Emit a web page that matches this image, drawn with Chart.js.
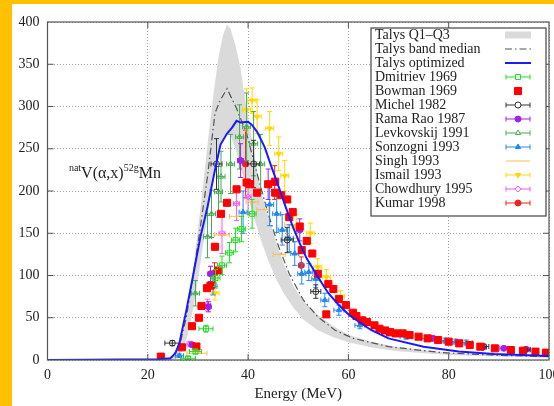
<!DOCTYPE html>
<html>
<head>
<meta charset="utf-8">
<script src="https://cdn.jsdelivr.net/npm/chart.js@4.4.1/dist/chart.umd.min.js"></script>
<style>
  body { margin: 0; background: #fff; }
  #wrap { position: relative; width: 554px; height: 406px; overflow: hidden; background: #fff;
          box-sizing: border-box; border-top: 4px solid #ffc000; border-left: 12px solid #ffc000; }
  canvas { display: block; }
</style>
</head>
<body>
<div id="wrap"><canvas id="c" width="560" height="402"></canvas></div>
<script>
// talys curves (energy in MeV, cross section in mb)
const bandE  = [24, 25, 26, 27, 28, 29, 30, 31, 32, 33, 34, 35, 35.8, 36.5, 37.5, 38.5, 39.5, 40.5, 41.5, 42.5, 44, 45.5, 47, 49, 51, 54, 57, 60, 65, 70, 80, 90, 100]
const bandQ1 = [0, 0, 2, 12, 30, 60, 95, 135, 175, 215, 245, 262, 268, 265, 250, 228, 205, 182, 162, 143, 118, 97, 80, 62, 48, 35, 27, 21, 14.5, 10.5, 6, 4, 2.8]
const bandQ3 = [0, 2, 12, 30, 60, 105, 155, 205, 260, 310, 355, 385, 397, 392, 372, 345, 305, 270, 235, 200, 170, 142, 115, 88, 70, 53, 40, 30, 21, 15, 8.5, 5.5, 3.8]

const medianE = [0, 24.5, 26.3, 27.7, 29.1, 30.5, 31.9, 33.4, 34.4, 35.8, 37.6, 39.7, 41.1, 42.5, 44, 46.1, 48.2, 51, 53.9, 57.4, 61, 68, 78.6, 90, 100]
const medianS = [0, 0, 16, 51, 102, 158, 217, 292, 307, 321, 299, 268, 236, 205, 173, 134, 102, 71, 51, 35, 25.6, 15.8, 8.7, 5.5, 4]

const optE = [0, 15, 22, 24.5, 25.5, 26.3, 27.7, 29.1, 30.5, 31.9, 33.4, 34.5, 35.8, 36.8, 37.7, 38.5, 40, 40.8, 41.8, 43.3, 44.7, 46.1, 47.5, 48.9, 50.3, 51.7, 53.9, 56, 58.1, 60.2, 64.5, 68, 75, 82, 89, 100]
const optS = [0, 0.5, 1, 2, 8, 20, 59, 102, 146, 181, 225, 255, 268, 275, 283, 281, 282, 278, 270, 252, 228, 205, 181, 158, 138, 120, 98.5, 79, 65, 53, 35.5, 25.6, 15.8, 10, 7, 4.7]

// experimental data
const dmitrievE = [28, 29.5, 31.6, 33.5, 34.8, 36.3, 37.5, 38.7, 40.8]
const dmitrievS = [2, 10, 37, 97, 112, 127, 142, 155, 173]
const dmitrievErrS = [2, 3, 4, 10, 11, 12, 14, 15, 17]
const dmitrievErrE = [1.5, 1.2, 1.4, 0.9, 0.9, 0.8, 0.8, 0.8, 0.8]

const bowmanE = [22.6, 26.8, 28.8, 29.7, 30.2, 30.7, 31.8, 32.5, 33.4, 34.1, 34.6, 35.8, 37.7, 39.7, 40.4, 41.8, 44, 45.4, 45.4, 46.6, 47.8, 48.2, 48.9, 50.3, 50.7, 51.7, 52.8, 53.9, 55.6, 56, 57, 58.1, 59.5, 60.9, 61.6, 62.7, 63.7, 65.2, 66.2, 67.3, 68.3, 69.4, 70.8, 72.2, 74, 75.8, 77.9, 80, 82.1, 84.2, 86.3, 89.2, 92.4, 94.8, 97.3, 99.4]
const bowmanS = [4, 15, 40, 16, 50, 64, 85, 88, 134, 106, 173, 186, 202, 210, 208, 198, 208, 211, 198, 195, 190, 169, 175, 158, 130, 141, 126, 102, 54, 90, 84, 72, 65, 56, 52, 47, 45, 41, 37, 35, 33, 31.5, 31.5, 29.5, 27.6, 25.6, 23.6, 21.7, 19.7, 17.7, 15.8, 13.8, 11.8, 11, 9.9, 8.7]

const michelE = [24.9, 33.7, 41.1, 47.8, 53.5, 87, 95.2]
const michelS = [20, 232, 232, 142, 81, 16, 12]
const michelErrS = [3, 30, 28, 15, 8, 2, 2]
const michelErrE = [1.5, 1.1, 1.2, 1.2, 1, 1, 1]

const ramaE = [28.8, 32.1, 32.5, 38.5, 44, 50.3, 76.8, 86.7, 91, 95.5]
const ramaS = [18, 63, 102, 236, 208, 154, 25.6, 15, 13.8, 12.6]
const ramaErrS = [2, 6, 9, 20, 18, 13, 3, 2, 2, 2]
const ramaErrE = [0.5, 0.5, 0.5, 0.6, 0.6, 0.6, 0.8, 0.8, 0.8, 0.8]

const levkE = [29.5, 31.9, 32.7, 34.1, 34.6, 36.5, 38.3, 39.7, 41.1, 42.5]
const levkS = [79, 146, 173, 199, 217, 232, 264, 276, 256, 232]
const levkErrS = [15, 25, 28, 30, 30, 35, 38, 40, 38, 35]
const levkErrE = [0.8, 0.8, 0.8, 0.8, 0.8, 0.8, 0.8, 0.8, 0.8, 0.8]

const sonzE = [26.3, 33, 39, 44.3, 45.7, 46.8, 48.2, 49.3, 50.7, 52.1, 53.5, 55.3, 58.1, 62.3, 68, 71.5, 75.8, 79.3, 81.4, 83.5]
const sonzS = [5, 87, 175, 184, 173, 154, 144, 126, 102, 104, 96, 71, 59, 41, 31.5, 27.6, 25.6, 22.9, 21.7, 20.5]
const sonzErrS = [2, 10, 25, 25, 22, 18, 16, 14, 12, 10, 10, 8, 6, 4, 3, 3, 3, 3, 3, 3]
const sonzErrE = [0.8, 0.8, 0.8, 0.8, 0.8, 0.8, 0.8, 0.8, 0.8, 0.8, 0.8, 0.8, 1, 1, 1.2, 1.2, 1.2, 1.2, 1.2, 1.2]

const singhE = [29.8, 34.8, 37.5, 40.8, 42.9, 46.2, 48.5]
const singhS = [8, 148, 170, 187, 178, 125, 160]
const singhErrE = [2, 1.5, 1.2, 1.2, 1.2, 1.2, 1.2]

const ismailE = [33.4, 39.7, 40.8, 41.8, 44.3, 46.1, 47.3, 49.6, 52.4, 53.9, 55.6, 58.4]
const ismailS = [79, 296, 307, 288, 274, 244, 218, 158, 150, 110, 98, 75]
const ismailErrS = [8, 25, 15, 20, 20, 20, 18, 14, 12, 10, 9, 7]
const ismailErrE = [0.8, 0.8, 0.8, 0.8, 0.8, 0.8, 0.8, 0.8, 0.8, 0.8, 0.8, 0.8]

const chowE = [28.4, 31.9, 34.8, 37.7, 40]
const chowS = [19, 65, 150, 185, 193]
const chowErrS = [3, 7, 24, 20, 20]
const chowErrE = [0.6, 0.6, 0.6, 0.6, 0.6]

const kumarE = [33.3, 39.5, 45.3, 50.6]
const kumarS = [103, 232, 210, 112]
const kumarErrS = [12, 40, 20, 10]
const kumarErrE = [0.5, 0.5, 0.5, 0.5]

const xTicks = { min: 0, max: 100, step: 20 }
const yTicks = { min: 0, max: 400, step: 50 }

const serif = '"Liberation Serif", "DejaVu Serif", serif'

const pts = (xs, ys) => xs.map((x, i) => ({ x, y: ys[i] }))

const expSet = (label, xs, ys, o) => Object.assign({
  label,
  data: pts(xs, ys),
  showLine: false,
  pointRadius: 3,
  pointBorderWidth: 1,
  order: 5,
}, o)

// plugins

const errorBars = {
  id: 'errorBars',
  beforeDatasetDraw(chart, args) {
    const ds = chart.data.datasets[args.index]
    if (!ds.errY && !ds.errX) return
    const { x: xs, y: ys } = chart.scales
    const a = chart.chartArea
    const ctx = chart.ctx
    ctx.save()
    ctx.beginPath()
    ctx.rect(a.left, a.top, a.right - a.left, a.bottom - a.top)
    ctx.clip()
    ctx.strokeStyle = ds.borderColor
    ctx.lineWidth = 1
    ctx.beginPath()
    ds.data.forEach((p, i) => {
      const px = xs.getPixelForValue(p.x)
      const py = ys.getPixelForValue(p.y)
      if (ds.errY) {
        const y1 = ys.getPixelForValue(p.y - ds.errY[i])
        const y2 = ys.getPixelForValue(p.y + ds.errY[i])
        ctx.moveTo(px, y1); ctx.lineTo(px, y2)
        ctx.moveTo(px - 2.5, y1); ctx.lineTo(px + 2.5, y1)
        ctx.moveTo(px - 2.5, y2); ctx.lineTo(px + 2.5, y2)
      }
      if (ds.errX) {
        const x1 = xs.getPixelForValue(p.x - ds.errX[i])
        const x2 = xs.getPixelForValue(p.x + ds.errX[i])
        ctx.moveTo(x1, py); ctx.lineTo(x2, py)
        ctx.moveTo(x1, py - 2.5); ctx.lineTo(x1, py + 2.5)
        ctx.moveTo(x2, py - 2.5); ctx.lineTo(x2, py + 2.5)
      }
    })
    ctx.stroke()
    ctx.restore()
  }
}

const marker = (ctx, style, x, y, r, rot) => {
  ctx.beginPath()
  if (style === 'rect') {
    const s = r * Math.SQRT1_2
    ctx.rect(x - s, y - s, 2 * s, 2 * s)
  } else if (style === 'circle') {
    ctx.arc(x, y, r, 0, Math.PI * 2)
  } else if (style === 'triangle') {
    const d = rot ? -1 : 1
    ctx.moveTo(x, y - d * r)
    ctx.lineTo(x + r * 0.87, y + d * r * 0.5)
    ctx.lineTo(x - r * 0.87, y + d * r * 0.5)
    ctx.closePath()
  } else if (style === 'rectRot') {
    ctx.moveTo(x, y - r); ctx.lineTo(x + r, y); ctx.lineTo(x, y + r); ctx.lineTo(x - r, y)
    ctx.closePath()
  }
}

const boxLegend = {
  id: 'boxLegend',
  afterDraw(chart) {
    const ctx = chart.ctx
    const a = chart.chartArea
    const right = a.right - 3, top = a.top + 6, left = right - 175
    const rowH = 14
    const items = chart.data.datasets.filter(d => d.inLegend !== false)
    const bottom = top + items.length * rowH + 6
    ctx.save()
    ctx.fillStyle = '#fff'
    ctx.fillRect(left, top, right - left, bottom - top)
    ctx.strokeStyle = '#444'
    ctx.lineWidth = 1.2
    ctx.strokeRect(left, top, right - left, bottom - top)
    ctx.font = '14px ' + serif
    ctx.textBaseline = 'middle'
    const sx = right - 28, hw = 12
    items.forEach((d, i) => {
      const y = top + 7 + rowH * i
      ctx.fillStyle = '#222'
      ctx.fillText(d.label, left + 4, y + 0.5)
      if (d.kind === 'band') {
        ctx.fillStyle = '#dadada'
        ctx.fillRect(sx - hw - 1, y - 3.5, 2 * hw + 2, 7)
      } else if (d.kind === 'line') {
        ctx.strokeStyle = d.borderColor
        ctx.lineWidth = d.borderWidth
        ctx.setLineDash(d.borderDash || [])
        ctx.beginPath(); ctx.moveTo(sx - hw - 1, y); ctx.lineTo(sx + hw + 1, y); ctx.stroke()
        ctx.setLineDash([])
      } else {
        ctx.strokeStyle = d.borderColor
        ctx.lineWidth = 1
        if (d.errX || d.errY) {
          ctx.beginPath()
          ctx.moveTo(sx - hw, y); ctx.lineTo(sx + hw, y)
          if (d.pointStyle !== 'dash') {
            ctx.moveTo(sx - hw, y - 2.5); ctx.lineTo(sx - hw, y + 2.5)
            ctx.moveTo(sx + hw, y - 2.5); ctx.lineTo(sx + hw, y + 2.5)
          }
          ctx.stroke()
        }
        if (d.pointStyle !== 'dash') {
          marker(ctx, d.pointStyle, sx, y, d.pointRadius, d.rotation === 180)
          if (d.backgroundColor !== 'transparent') { ctx.fillStyle = d.backgroundColor; ctx.fill() }
          else { ctx.fillStyle = '#fff'; ctx.fill() }
          ctx.stroke()
        }
      }
    })
    ctx.restore()
  }
}

const frame = {
  id: 'frame',
  afterDatasetsDraw(chart) {
    const ctx = chart.ctx
    const a = chart.chartArea
    const { x: xs, y: ys } = chart.scales
    ctx.save()
    ctx.strokeStyle = '#555'
    ctx.lineWidth = 1.2
    ctx.strokeRect(a.left, a.top, a.right - a.left, a.bottom - a.top)
    ctx.lineWidth = 1
    ctx.beginPath()
    for (let v = xTicks.min + xTicks.step; v < xTicks.max; v += xTicks.step) {
      const p = xs.getPixelForValue(v)
      ctx.moveTo(p, a.bottom); ctx.lineTo(p, a.bottom - 6)
      ctx.moveTo(p, a.top); ctx.lineTo(p, a.top + 6)
    }
    for (let v = yTicks.min + yTicks.step; v < yTicks.max; v += yTicks.step) {
      const p = ys.getPixelForValue(v)
      ctx.moveTo(a.left, p); ctx.lineTo(a.left + 6, p)
      ctx.moveTo(a.right, p); ctx.lineTo(a.right - 6, p)
    }
    ctx.stroke()

    // reaction label
    const x0 = xs.getPixelForValue(6.7)
    const y0 = ys.getPixelForValue(215)
    ctx.fillStyle = '#222'
    ctx.textBaseline = 'alphabetic'
    ctx.font = '10px ' + serif
    ctx.textAlign = 'right'
    ctx.fillText('nat', x0, y0 - 7)
    ctx.textAlign = 'left'
    ctx.font = '16px ' + serif
    ctx.fillText('V(α,x)', x0, y0)
    let x1 = x0 + ctx.measureText('V(α,x)').width
    ctx.font = '10px ' + serif
    ctx.fillText('52g', x1, y0 - 7)
    x1 += ctx.measureText('52g').width
    ctx.font = '16px ' + serif
    ctx.fillText('Mn', x1, y0)
    ctx.restore()
  }
}

const datasets = [
  { label: 'Talys Q1 low', inLegend: false, data: pts(bandE, bandQ1), borderWidth: 0, pointRadius: 0, fill: false, order: 20 },
  { label: 'Talys Q1\u2013Q3', kind: 'band', data: pts(bandE, bandQ3), borderWidth: 0, pointRadius: 0,
    fill: '-1', backgroundColor: '#dadada', order: 20 },
  { label: 'Talys band median', kind: 'line', data: pts(medianE, medianS), borderColor: '#555', borderWidth: 1.2,
    borderDash: [7, 3, 1.5, 3], pointRadius: 0, fill: false, order: 15 },
  { label: 'Talys optimized', kind: 'line', data: pts(optE, optS), borderColor: '#1a1aff', borderWidth: 2,
    pointRadius: 0, fill: false, order: 1 },
  expSet('Dmitriev 1969', dmitrievE, dmitrievS, { pointStyle: 'rect', pointRadius: 3.5, borderColor: '#22dd22', backgroundColor: 'transparent',
    errY: dmitrievErrS, errX: dmitrievErrE }),
  expSet('Bowman 1969', bowmanE, bowmanS, { pointStyle: 'rect', pointRadius: 5, borderColor: '#ff0000', backgroundColor: '#ff0000' }),
  expSet('Michel 1982', michelE, michelS, { pointStyle: 'circle', borderColor: '#333', backgroundColor: 'transparent',
    errY: michelErrS, errX: michelErrE }),
  expSet('Rama Rao 1987', ramaE, ramaS, { pointStyle: 'circle', borderColor: '#a020f0', backgroundColor: '#a020f0',
    errY: ramaErrS, errX: ramaErrE }),
  expSet('Levkovskij 1991', levkE, levkS, { pointStyle: 'triangle', borderColor: '#44aa55', backgroundColor: 'transparent',
    errY: levkErrS, errX: levkErrE }),
  expSet('Sonzogni 1993', sonzE, sonzS, { pointStyle: 'triangle', borderColor: '#2288ee', backgroundColor: '#2288ee',
    errY: sonzErrS, errX: sonzErrE }),
  expSet('Singh 1993', singhE, singhS, { pointStyle: 'dash', pointRadius: 4, borderColor: '#ffbb55', backgroundColor: '#ffbb55',
    pointBorderWidth: 1.5, errX: singhErrE }),
  expSet('Ismail 1993', ismailE, ismailS, { pointStyle: 'triangle', rotation: 180, borderColor: '#ffd800', backgroundColor: '#ffd800',
    errY: ismailErrS, errX: ismailErrE }),
  expSet('Chowdhury 1995', chowE, chowS, { pointStyle: 'rectRot', borderColor: '#ff55ee', backgroundColor: 'transparent',
    errY: chowErrS, errX: chowErrE }),
  expSet('Kumar 1998', kumarE, kumarS, { pointStyle: 'circle', borderColor: '#ee2222', backgroundColor: '#ee2222',
    errY: kumarErrS, errX: kumarErrE }),
]

const tickFont = { family: serif, size: 14 }

new Chart(document.getElementById('c'), {
  type: 'line',
  data: { datasets },
  plugins: [errorBars, frame, boxLegend],
  options: {
    responsive: false,
    animation: false,
    layout: { padding: { left: 0, right: 23, top: 18, bottom: 0 } },
    plugins: { legend: { display: false }, tooltip: { enabled: false } },
    elements: { line: { tension: 0 } },
    scales: {
      x: {
        type: 'linear',
        min: xTicks.min, max: xTicks.max,
        ticks: { stepSize: xTicks.step, font: tickFont, color: '#222', padding: 7, maxRotation: 0 },
        grid: { color: '#888', lineWidth: 0.8, drawTicks: false },
        border: { display: false, dash: [1, 2] },
        title: { display: true, text: 'Energy (MeV)', font: { family: serif, size: 15 }, color: '#222', padding: { top: 2, bottom: 3 } },
        afterFit: (s) => { s.height = 46 },
      },
      y: {
        min: yTicks.min, max: yTicks.max,
        ticks: { stepSize: yTicks.step, font: tickFont, color: '#222', padding: 8 },
        grid: { color: '#888', lineWidth: 0.8, drawTicks: false },
        border: { display: false, dash: [1, 2] },
        afterFit: (s) => { s.width = 35.5 },
      },
    },
  },
})
</script>
</body>
</html>
